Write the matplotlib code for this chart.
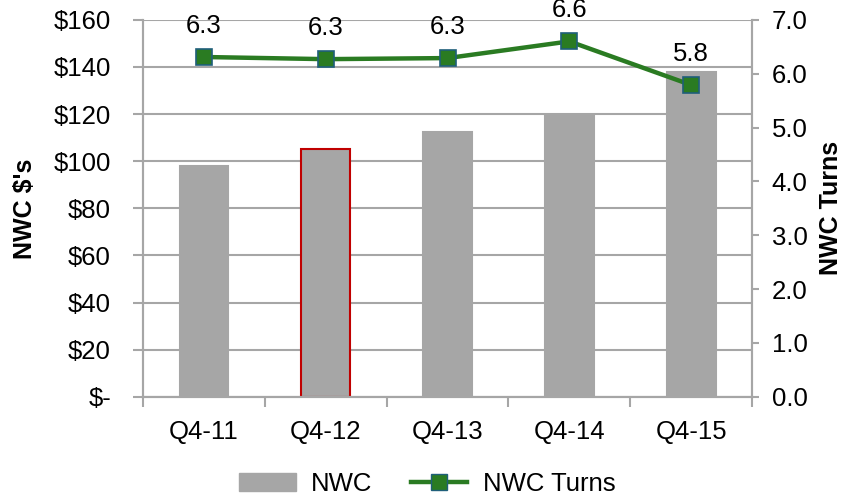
import numpy as np
import matplotlib
matplotlib.use("Agg")
import matplotlib.pyplot as plt
from matplotlib.ticker import FuncFormatter

plt.rcParams['font.family'] = ['Liberation Sans', 'DejaVu Sans']

# chart data
quarters = ['Q4-11', 'Q4-12', 'Q4-13', 'Q4-14', 'Q4-15']
nwc = [98, 105.3, 112.5, 119.7, 138]
turns = [6.31, 6.27, 6.29, 6.60, 5.79]
turn_labels = ['6.3', '6.3', '6.3', '6.6', '5.8']

bar_col = '#A6A6A6'
line_col = '#2A7B22'
grid_col = '#A6A6A6'

fig = plt.figure(figsize=(8.46, 4.96), dpi=100)
ax = fig.add_axes([0.169, 0.2, 0.72, 0.76])
ax2 = ax.twinx()

x = np.arange(len(quarters))
edges = [bar_col] * len(x)
edges[1] = '#C00000'
ax.bar(x, nwc, width=0.4, color=bar_col, edgecolor=edges, linewidth=1.5, zorder=2)

ax.set_ylim(0, 160)
ax.set_yticks(np.arange(0, 161, 20))
ax.yaxis.set_major_formatter(FuncFormatter(lambda v, p: '$-' if v == 0 else f'${v:.0f}'))
ax.grid(axis='y', color=grid_col, linewidth=1.5, zorder=0)
ax.set_axisbelow(True)

ax.set_xlim(-0.5, len(x) - 0.5)
ax.set_xticks(np.arange(-0.5, len(x)))
ax.set_xticklabels([])
ax.set_xticks(x, minor=True)
ax.set_xticklabels(quarters, minor=True)
ax.tick_params(axis='x', which='minor', length=0, pad=17, labelsize=18.5)
ax.tick_params(axis='x', which='major', length=7, width=1.5, color=grid_col)
ax.tick_params(axis='y', length=7, width=1.5, color=grid_col, labelsize=18.5, pad=16)

for a in (ax, ax2):
    for s in ['top']:
        a.spines[s].set_visible(False)
    for s in ['left', 'right', 'bottom']:
        a.spines[s].set_color(grid_col)
        a.spines[s].set_linewidth(1.5)

ax.set_ylabel("NWC $'s", fontsize=18, fontweight='bold', labelpad=12)

ax2.plot(x, turns, color=line_col, linewidth=3.2, marker='s', markersize=12,
         markerfacecolor=line_col, markeredgecolor='#1F5F7A', markeredgewidth=1.2,
         zorder=3, clip_on=False)
ax2.set_ylim(0, 7)
ax2.set_yticks(np.arange(0, 7.1, 1))
ax2.yaxis.set_major_formatter(FuncFormatter(lambda v, p: f'{v:.1f}'))
ax2.tick_params(axis='y', length=5, width=1.5, color=grid_col, labelsize=18.5, pad=9)
ax2.set_ylabel('NWC Turns', fontsize=18, fontweight='bold', labelpad=8)

for xi, yi, lab in zip(x, turns, turn_labels):
    ax2.annotate(lab, (xi, yi), xytext=(0, 14), textcoords='offset points',
                 ha='center', va='bottom', fontsize=18.5, annotation_clip=False)

handles = [plt.Rectangle((0, 0), 1, 1, color=bar_col),
           plt.Line2D([], [], color=line_col, linewidth=3.2, marker='s', markersize=12,
                      markerfacecolor=line_col, markeredgecolor='#1F5F7A')]
fig.legend(handles, ['NWC', 'NWC Turns'], loc='center', bbox_to_anchor=(0.505, 0.025),
           ncol=2, frameon=False, fontsize=18.5, handlelength=2.2, columnspacing=1.5,
           handletextpad=0.6)

fig.savefig('out.png', dpi=100)
